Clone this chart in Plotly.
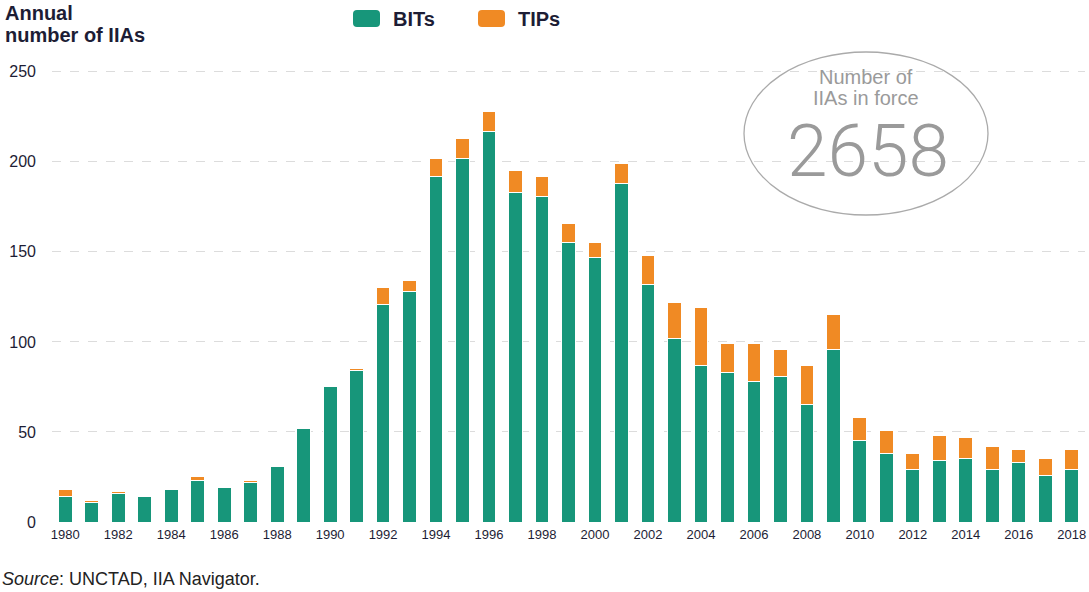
import plotly.graph_objects as go

years = list(range(1980, 2019))
bits = [14, 11, 16, 14, 18, 23, 19, 22, 31, 52,
        75, 84, 121, 128, 192, 202, 217, 183, 181, 155,
        147, 188, 132, 102, 87, 83, 78, 81, 65, 96,
        45, 38, 29, 34, 35, 29, 33, 26, 29]
tips = [4, 1, 1, 0, 0, 2, 0, 1, 0, 0,
        1, 1, 9, 6, 10, 11, 11, 12, 11, 11,
        8, 11, 16, 20, 32, 16, 21, 15, 22, 19,
        13, 13, 9, 14, 12, 13, 7, 9, 11]
tick_years = list(range(1980, 2019, 2))
y_ticks = [0, 50, 100, 150, 200, 250]
series_names = ["BITs", "TIPs"]
in_force = "2658"

GREEN = "#17967a"
ORANGE = "#f08a24"
FONT = "Liberation Sans"
TXT = "#1d1d35"

L, R, T, B = 52, 4, 70, 70
W, H = 1089, 592
PW, PH = W - L - R, H - T - B


def px(x):
    return (x - L) / PW


def py(y):
    return (H - B - y) / PH


fig = go.Figure()
fig.add_trace(go.Bar(x=years, y=bits, name=series_names[0],
                     marker=dict(color=GREEN, line=dict(color="white", width=1))))
fig.add_trace(go.Bar(x=years, y=tips, name=series_names[1],
                     marker=dict(color=ORANGE, line=dict(color="white", width=1))))

fig.update_layout(
    barmode="stack",
    bargap=0.48,
    width=W, height=H,
    margin=dict(l=L, r=R, t=T, b=B),
    plot_bgcolor="white", paper_bgcolor="white",
    font=dict(family=FONT, color=TXT, size=13),
    showlegend=False,
    xaxis=dict(range=[1979.5, 2018.5], tickmode="array", tickvals=tick_years,
               ticktext=[str(y) for y in tick_years], showgrid=False, zeroline=False,
               showline=False, ticks="", tickfont=dict(size=13, family=FONT, color=TXT),
               ticklabelstandoff=3),
    yaxis=dict(range=[0, 251], tickmode="array", tickvals=y_ticks, showgrid=True,
               gridcolor="#dcdcdc", griddash="dash", gridwidth=1, zeroline=False,
               showline=False, ticks="", tickfont=dict(size=16, family=FONT, color=TXT),
               ticklabelstandoff=15),
)

# title (two lines)
fig.add_annotation(text="<b>Annual</b>", xref="paper", yref="paper", x=px(3), y=py(13),
                   xanchor="left", yanchor="middle", showarrow=False,
                   font=dict(family=FONT, size=20, color=TXT))
fig.add_annotation(text="<b>number of IIAs</b>", xref="paper", yref="paper", x=px(3), y=py(35),
                   xanchor="left", yanchor="middle", showarrow=False,
                   font=dict(family=FONT, size=20, color=TXT))

# legend (manual)
for name, col, sx, tx in [(series_names[0], GREEN, 353, 391), (series_names[1], ORANGE, 478, 516)]:
    x0, x1, y0, y1, r = sx, sx + 27, 10, 27, 4
    path = (f"M {px(x0 + r)},{py(y0)} L {px(x1 - r)},{py(y0)} Q {px(x1)},{py(y0)} {px(x1)},{py(y0 + r)} "
            f"L {px(x1)},{py(y1 - r)} Q {px(x1)},{py(y1)} {px(x1 - r)},{py(y1)} "
            f"L {px(x0 + r)},{py(y1)} Q {px(x0)},{py(y1)} {px(x0)},{py(y1 - r)} "
            f"L {px(x0)},{py(y0 + r)} Q {px(x0)},{py(y0)} {px(x0 + r)},{py(y0)} Z")
    fig.add_shape(type="path", path=path, xref="paper", yref="paper",
                  fillcolor=col, line=dict(width=0))
    fig.add_annotation(text=f"<b>{name}</b>", xref="paper", yref="paper", x=px(tx), y=py(19),
                       xanchor="left", yanchor="middle", showarrow=False,
                       font=dict(family=FONT, size=20, color=TXT))

# source
fig.add_annotation(text="<i>Source</i>: UNCTAD, IIA Navigator.", xref="paper", yref="paper",
                   x=px(0), y=py(579), xanchor="left", yanchor="middle",
                   showarrow=False, font=dict(family=FONT, size=18, color="#222222"))

# ellipse callout
fig.add_shape(type="circle", xref="paper", yref="paper",
              x0=px(744), x1=px(988), y0=py(215), y1=py(52),
              line=dict(color="#aaaaaa", width=1.3), fillcolor="rgba(0,0,0,0)")
fig.add_annotation(text="Number of", xref="paper", yref="paper", x=px(866), y=py(77),
                   xanchor="center", yanchor="middle", showarrow=False,
                   font=dict(family=FONT, size=20, color="#9a9a9a"))
fig.add_annotation(text="IIAs in force", xref="paper", yref="paper", x=px(866), y=py(98),
                   xanchor="center", yanchor="middle", showarrow=False,
                   font=dict(family=FONT, size=20, color="#9a9a9a"))
fig.add_annotation(text=in_force, xref="paper", yref="paper", x=px(868), y=py(151),
                   xanchor="center", yanchor="middle", showarrow=False,
                   font=dict(family="Roboto", size=73, color="#9a9a9a", weight=300))

fig.write_html("out.html", config={"displayModeBar": False},
               post_script="document.body.style.margin='0';")
